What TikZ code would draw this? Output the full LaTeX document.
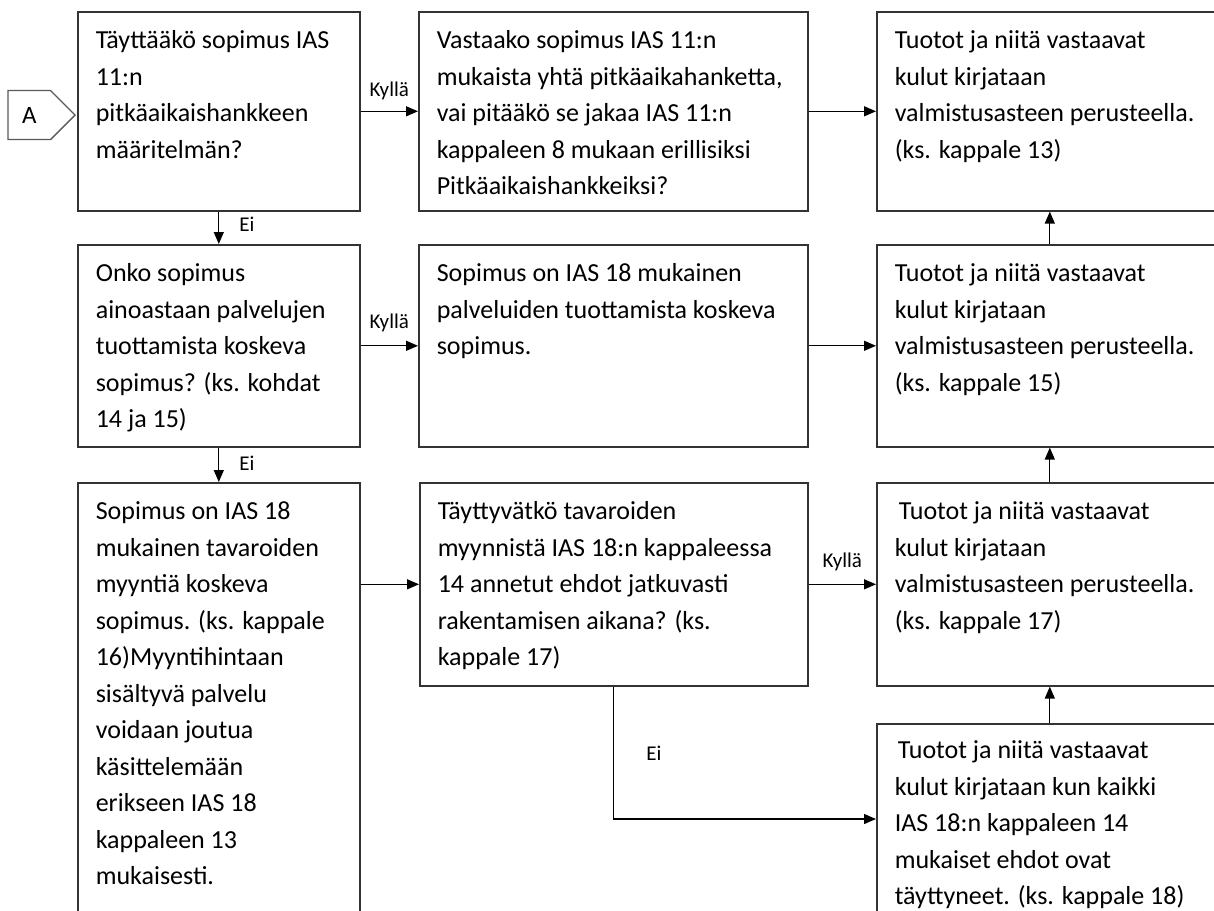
\documentclass[tikz,border=0pt]{standalone}
\usepackage{fontspec}
\setmainfont{Carlito}
\usetikzlibrary{arrows.meta,shapes.symbols,calc}
\newcommand\inbox[4][37pt]{\parbox[c][#3][t]{#2}{\fontsize{26}{36.5}\selectfont\raggedright\leftskip=18pt\rule{0pt}{#1}#4}}
\newcommand\labtxt[1]{{\fontsize{21}{23}\selectfont #1}}
\begin{document}
\begin{tikzpicture}[x=1pt,y=-1pt,
  box/.style={draw=black!80, line width=1.6pt, rectangle, inner sep=0pt, anchor=north west},
  conn/.style={draw=black, line width=1.3pt, -{Triangle[length=12pt,width=10pt]}},
  lab/.style={inner sep=0pt},
]
\useasboundingbox (0,0) rectangle (1214,910);
\clip (0,0) rectangle (1214,910);

\node[draw=black!65, line width=1.3pt, signal, signal to=east, signal pointer angle=90,
      minimum width=67pt, minimum height=49pt, inner sep=0pt, anchor=east] (A) at (76,115) {{\fontsize{25}{25}\selectfont A}};

\node[box] (b1) at (77,11) {\inbox{282pt}{199pt}{Täyttääkö sopimus IAS\\11:n\\pitkäaikaishankkeen\\määritelmän?}};
\node[box] (b2) at (418,11) {\inbox{389pt}{199pt}{Vastaako sopimus IAS 11:n\\mukaista yhtä pitkäaikahanketta,\\vai pitääkö se jakaa IAS 11:n\\kappaleen 8 mukaan erillisiksi\\Pitkäaikaishankkeiksi?}};
\node[box] (b3) at (876,11) {\inbox{346pt}{199pt}{Tuotot ja niitä vastaavat\\kulut kirjataan\\valmistusasteen perusteella.\\(ks. kappale 13)}};

\node[box] (b4) at (77,244) {\inbox{282pt}{202pt}{Onko sopimus\\ainoastaan palvelujen\\tuottamista koskeva\\sopimus? (ks. kohdat\\14 ja 15)}};
\node[box] (b5) at (418,244) {\inbox{389pt}{202pt}{Sopimus on IAS 18 mukainen\\palveluiden tuottamista koskeva\\sopimus.}};
\node[box] (b6) at (876,244) {\inbox{346pt}{202pt}{Tuotot ja niitä vastaavat\\kulut kirjataan\\valmistusasteen perusteella.\\(ks. kappale 15)}};

\node[box] (b7) at (77,482) {\inbox{282pt}{470pt}{Sopimus on IAS 18\\mukainen tavaroiden\\myyntiä koskeva\\sopimus. (ks. kappale\\16)Myyntihintaan\\sisältyvä palvelu\\voidaan joutua\\käsittelemään\\erikseen IAS 18\\kappaleen 13\\mukaisesti.}};
\node[box] (b8) at (419,482) {\inbox{388pt}{203pt}{Täyttyvätkö tavaroiden\\myynnistä IAS 18:n kappaleessa\\14 annetut ehdot jatkuvasti\\rakentamisen aikana? (ks.\\kappale 17)}};
\node[box] (b9) at (876,482) {\inbox{346pt}{203pt}{\hspace{4pt}Tuotot ja niitä vastaavat\\kulut kirjataan\\valmistusasteen perusteella.\\(ks. kappale 17)}};
\node[box] (b10) at (876,723) {\inbox[35pt]{346pt}{230pt}{\hspace{3pt}Tuotot ja niitä vastaavat\\kulut kirjataan kun kaikki\\IAS 18:n kappaleen 14\\mukaiset ehdot ovat\\täyttyneet. (ks. kappale 18)}};

\draw[conn] (b1.east) -- node[lab, anchor=base, yshift=15pt] {\labtxt{Kyllä}} (b2.west);
\draw[conn] (b2.east) -- (b3.west);
\draw[conn] (b1.south) -- node[lab, anchor=west, xshift=20pt, yshift=4pt] {\labtxt{Ei}} (b4.north);
\draw[conn] (b4.east) -- node[lab, anchor=base, yshift=17pt] {\labtxt{Kyllä}} (b5.west);
\draw[conn] (b5.east) -- (b6.west);
\draw[conn] (b4.south) -- node[lab, anchor=west, xshift=20pt, yshift=2pt] {\labtxt{Ei}} (b7.north);
\draw[conn] (b8.west -| b7.east) -- (b8.west);
\draw[conn] (b8.east) -- node[lab, anchor=base, yshift=17pt] {\labtxt{Kyllä}} (b9.west);
\draw[conn] (b8.south) |- node[lab, pos=0.25, anchor=west, xshift=32pt] {\labtxt{Ei}} ($(b10.north west)+(0,96)$);
\draw[conn] (b6.north) -- (b3.south);
\draw[conn] (b9.north) -- (b6.south);
\draw[conn] (b10.north) -- (b9.south);
\end{tikzpicture}
\end{document}
